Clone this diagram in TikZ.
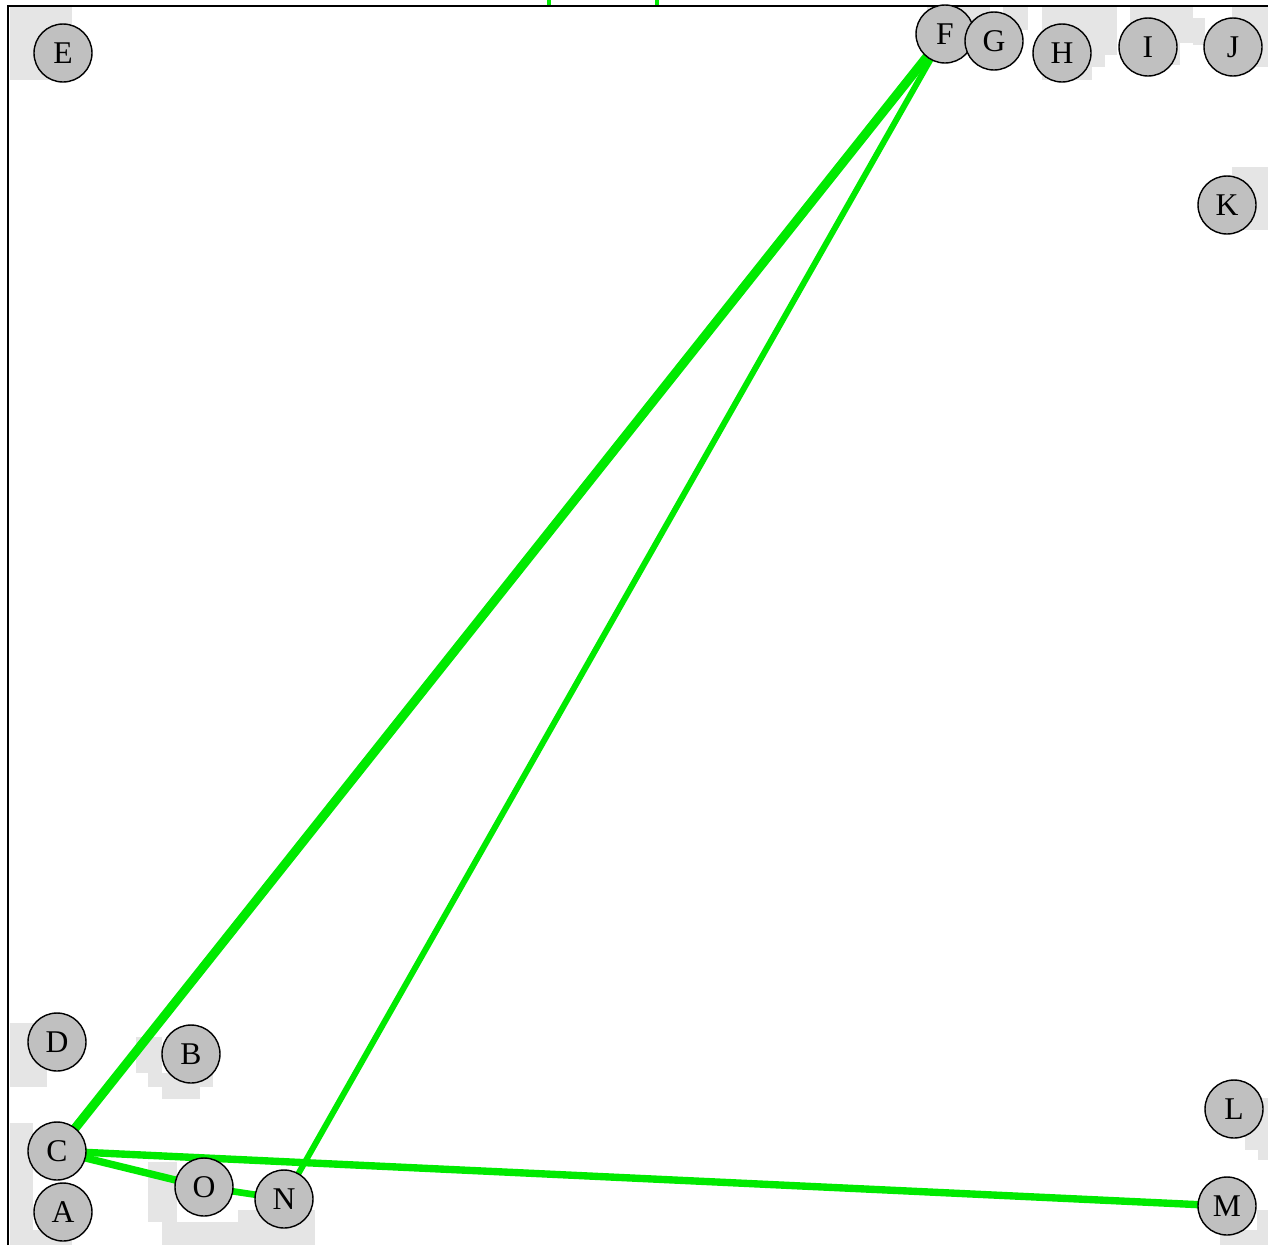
\documentclass[tikz,border=0pt]{standalone}
\usepackage{fontspec}
\setmainfont{Liberation Serif}
\usetikzlibrary{positioning}
\definecolor{vertexgray}{RGB}{192,192,192}
\definecolor{shadegray}{RGB}{229,229,229}
\definecolor{linkgreen}{RGB}{0,234,0}
\pgfdeclarelayer{patches}
\pgfdeclarelayer{links}
\pgfsetlayers{patches,links,main}
\tikzset{
  vertex/.style={circle, draw, line width=0.8pt, fill=vertexgray, minimum size=1.16cm,
    inner sep=0pt, font=\fontsize{18}{20}\selectfont},
  shade/.style={fill=shadegray, draw=none},
  link/.style={draw=linkgreen, line width=#1},
  link/.default=3.6pt
}
\begin{document}
\begin{tikzpicture}[x=0.02cm, y=-0.02cm]
  \useasboundingbox (0,0) rectangle (1268,1245);

  % vertices
  \node[vertex] (E) at (63,53) {E};
  \node[vertex] (K) at (1227,205) {K};
  \node[vertex] (D) at (57,1042) {D};
  \node[vertex] (B) at (191,1054) {B};
  \node[vertex] (L) at (1234,1109) {L};
  \node[vertex] (A) at (63,1212) {A};
  \node[vertex] (M) at (1227,1206) {M};
  \node[vertex] (H) at (1062,53) {H};
  \node[vertex] (I) at (1148,47) {I};
  \node[vertex] (J) at (1233,47) {J};
  \node[vertex] (C) at (57,1151) {C};
  \node[vertex] (O) at (204,1187) {O};
  \node[vertex] (N) at (284,1199) {N};
  \node[vertex] (F) at (945,34) {F};
  \node[vertex] (G) at (994,41) {G};

  % links
  \begin{pgfonlayer}{links}
    \path[link=5.2pt] (C.center) -- (F.center);
    \path[link=3.4pt] (N.center) -- (F.center);
    \path[link=4.2pt] (C.center) -- (M.center);
    \path[link=4.2pt] (C.center) -- (O.center);
    \path[link=3.8pt] (O.center) -- (N.center);
  \end{pgfonlayer}

  % gray label patches
  \begin{pgfonlayer}{patches}
  \fill[shade] (10,7) rectangle (72,80);
  \fill[shade] (927,7) rectangle (990,25);
  \fill[shade] (1003,7) rectangle (1028,30);
  \fill[shade] (1042,7) rectangle (1117,55);
  \fill[shade] (1042,55) rectangle (1105,67);
  \fill[shade] (1042,67) rectangle (1092,80);
  \fill[shade] (1130,7) rectangle (1193,43);
  \fill[shade] (1130,43) rectangle (1180,65);
  \fill[shade] (1193,18) rectangle (1205,45);
  \fill[shade] (1232,7) rectangle (1268,67);
  \fill[shade] (1232,167) rectangle (1268,230);
  \fill[shade] (10,1023) rectangle (47,1087);
  \fill[shade] (136,1037) rectangle (162,1073);
  \fill[shade] (148,1073) rectangle (213,1087);
  \fill[shade] (162,1087) rectangle (200,1099);
  \fill[shade] (1245,1098) rectangle (1268,1150);
  \fill[shade] (1258,1150) rectangle (1268,1160);
  \fill[shade] (10,1123) rectangle (33,1245);
  \fill[shade] (33,1230) rectangle (72,1245);
  \fill[shade] (148,1162) rectangle (177,1222);
  \fill[shade] (162,1222) rectangle (238,1245);
  \fill[shade] (238,1210) rectangle (315,1245);
  \fill[shade] (1257,1210) rectangle (1268,1245);
  \fill[shade] (1220,1230) rectangle (1268,1245);

  % frame
  \draw[line width=1.1pt] (8,1245) -- (8,6) -- (1268,6);
  \draw[linkgreen, line width=2.6pt] (549,0) -- (549,5);
  \draw[linkgreen, line width=2.6pt] (657,0) -- (657,5);
  \end{pgfonlayer}
\end{tikzpicture}
\end{document}
